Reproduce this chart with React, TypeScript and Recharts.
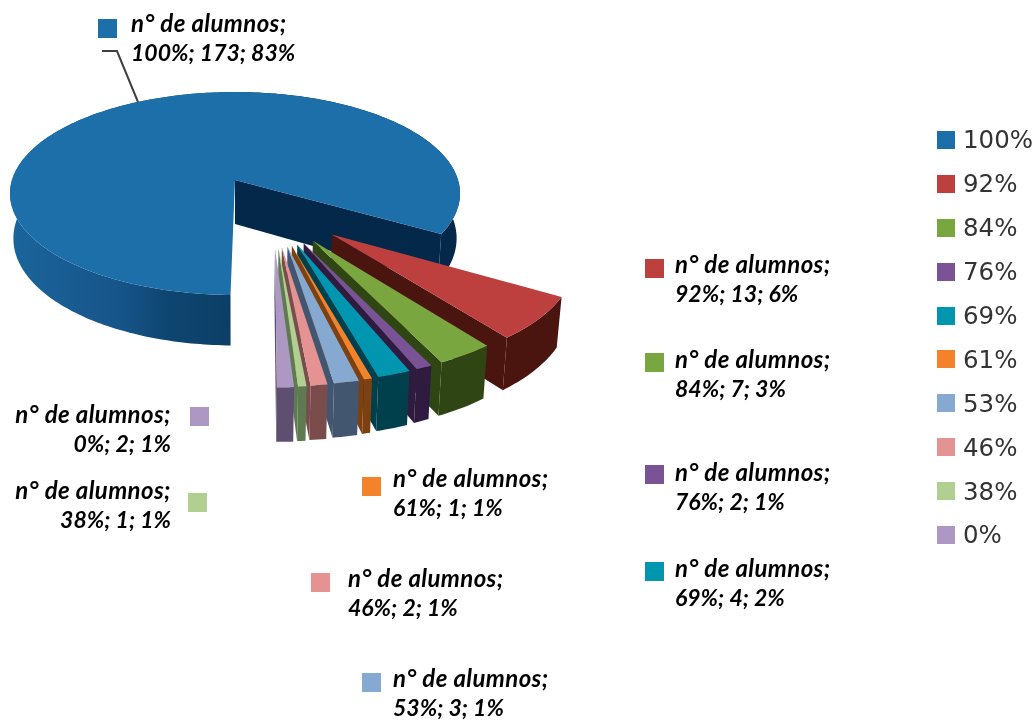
import { PieChart, Pie, Cell, Legend } from "recharts";

const categories = ["100%", "92%", "84%", "76%", "69%", "61%", "53%", "46%", "38%", "0%"];
const alumnos = [173, 13, 7, 2, 4, 1, 3, 2, 1, 2];
const shares = ["83%", "6%", "3%", "1%", "2%", "1%", "1%", "1%", "1%", "1%"];

const topColors = ["#1c6fa9", "#bd403f", "#7aa63f", "#7a5296", "#0096b0", "#f4822a", "#86a9d2", "#e49292", "#b0cf90", "#ad97c3"];
const sideColors = ["url(#blueWall)", "#4a140f", "#2f4614", "#2f1a40", "#003f4c", "#7d4010", "#435670", "#7a4c4c", "#5e7a50", "#5e4e70"];

// swatch x, swatch y, text x, first baseline, anchor
const labelSpots: [number, number, number, number, "start" | "end"][] = [
  [98, 19, 131, 32, "start"],
  [645, 259, 675, 273, "start"],
  [645, 353, 675, 368, "start"],
  [645, 465, 675, 481, "start"],
  [645, 562, 675, 577, "start"],
  [362, 477, 393, 487, "start"],
  [362, 673, 393, 687, "start"],
  [311, 573, 348, 587, "start"],
  [188, 493, 171, 499, "end"],
  [190, 407, 171, 423, "end"],
];

const data = categories.map((name, i) => ({ name, value: alumnos[i] }));

const TILT = 0.447;
const PERSP = 0.133;

function project(cx: number, cy: number, r: number, u: number, v: number) {
  const w = 1 - PERSP * v;
  return [cx + (r * u) / w, cy + (r * TILT * v) / w];
}

function lower(cx: number, p: number[], v: number) {
  return [cx + (p[0] - cx) * 0.985, p[1] + 44 + 6.5 * v];
}

function toPath(points: number[][]) {
  return "M" + points.map((p) => `${p[0].toFixed(1)},${p[1].toFixed(1)}`).join("L") + "Z";
}

function Slice(props: any) {
  const { cx, cy, outerRadius, startAngle, endAngle, index } = props;
  const a0 = -startAngle;
  const a1 = -endAngle;
  const midDeg = (a0 + a1) / 2;
  // everything but the big slice is pulled out of the pie
  const dir = ((30.7 + 0.5 * midDeg) * Math.PI) / 180;
  const ou = index === 0 ? 0 : 0.65 * Math.cos(dir);
  const ov = index === 0 ? 0 : 0.65 * Math.sin(dir);

  const arc: { u: number; v: number }[] = [];
  const steps = Math.max(2, Math.ceil(Math.abs(a1 - a0)));
  for (let i = 0; i <= steps; i++) {
    const t = ((a0 + ((a1 - a0) * i) / steps) * Math.PI) / 180;
    arc.push({ u: ou + Math.cos(t), v: ov + Math.sin(t) });
  }
  const top = arc.map((q) => project(cx, cy, outerRadius, q.u, q.v));
  const bottom = top.map((p, i) => lower(cx, p, arc[i].v));
  const apex = project(cx, cy, outerRadius, ou, ov);
  const apexLow = lower(cx, apex, ov);
  const side = index === 0 ? "#03284a" : sideColors[index];
  // the arc runs clockwise, the cut face we can see is the one at its end
  const last = top.length - 1;
  const face = [apex, top[last], bottom[last], apexLow];
  const wall = [...top, ...[...bottom].reverse()];

  return (
    <g>
      <path d={toPath(wall)} fill={sideColors[index]} />
      <path d={toPath(face)} fill={side} />
      <path d={toPath([apex, ...top])} fill={topColors[index]} />
    </g>
  );
}

const labelFont = { fontFamily: "Lato", fontWeight: 700, fontStyle: "italic", fill: "#000" };

function SliceLabel(props: any) {
  const { index } = props;
  const [sx, sy, tx, base, anchor] = labelSpots[index];
  return (
    <g>
      {index === 0 && <polyline points="102,51 117,51 138,102" fill="none" stroke="#404040" strokeWidth={2} />}
      <rect x={sx} y={sy} width={19} height={19} fill={topColors[index]} />
      <text x={tx} y={base} textAnchor={anchor} fontSize={24} letterSpacing={0.4} {...labelFont}>
        n° de alumnos;
      </text>
      <text x={tx} y={base + 29} textAnchor={anchor} fontSize={23} {...labelFont}>
        {`${categories[index]}; ${alumnos[index]}; ${shares[index]}`}
      </text>
    </g>
  );
}

function LegendList(props: any) {
  const { payload } = props;
  return (
    <div>
      {(payload || []).map((item: any, i: number) => (
        <div key={item.value} style={{ height: 43.9, display: "flex", alignItems: "center" }}>
          <span style={{ width: 18, height: 18, background: topColors[i], marginRight: 8 }} />
          <span style={{ fontFamily: "DejaVu Sans", fontSize: 24.5, color: "#333" }}>{item.value}</span>
        </div>
      ))}
    </div>
  );
}

export default function App() {
  return (
    <div style={{ position: "absolute", left: 0, top: 0, width: 1036, height: 721, filter: "blur(0.6px)" }}>
      <PieChart width={1036} height={721} margin={{ top: 0, right: 0, bottom: 0, left: 0 }}>
        <defs>
          <linearGradient id="blueWall" gradientUnits="userSpaceOnUse" x1="10" y1="0" x2="235" y2="0">
            <stop offset="0%" stopColor="#1b659c" />
            <stop offset="50%" stopColor="#165488" />
            <stop offset="70%" stopColor="#0e4570" />
            <stop offset="100%" stopColor="#0c3f66" />
            <stop offset="100%" stopColor="#03284a" />
          </linearGradient>
        </defs>
        <Pie
          data={data}
          dataKey="value"
          nameKey="name"
          cx={235}
          cy={180}
          outerRadius={223}
          startAngle={269}
          endAngle={-91}
          shape={Slice}
          label={SliceLabel}
          labelLine={false}
          isAnimationActive={false}
        >
          {data.map((d, i) => (
            <Cell key={d.name} fill={topColors[i]} />
          ))}
        </Pie>
        <Legend content={LegendList} itemSorter={null} wrapperStyle={{ position: "absolute", left: 937, top: 118, width: 99 }} />
      </PieChart>
    </div>
  );
}
